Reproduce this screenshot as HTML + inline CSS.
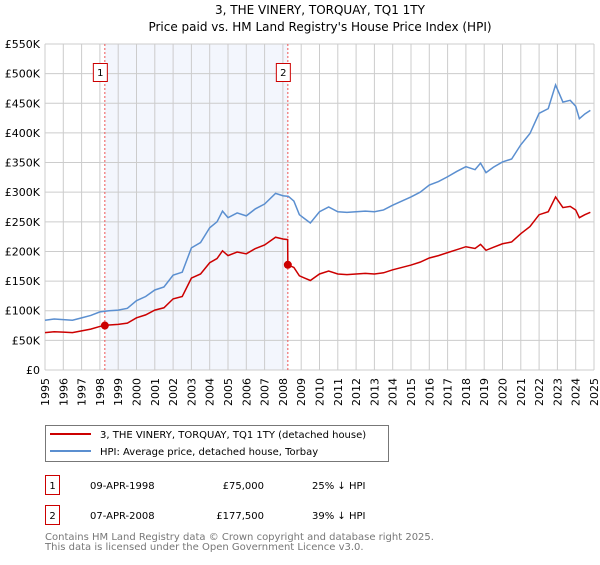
<!DOCTYPE html>
<html><head><meta charset="utf-8">
<style>
body{margin:0;background:#fff;font-family:"Liberation Sans","DejaVu Sans",sans-serif;}
svg text{font-family:"DejaVu Sans","Liberation Sans",sans-serif;}
</style></head>
<body>
<svg id="chart" width="600" height="560" xmlns="http://www.w3.org/2000/svg">
<text x="320" y="14" text-anchor="middle" font-size="12" fill="#000">3, THE VINERY, TORQUAY, TQ1 1TY</text>
<text x="320" y="31" text-anchor="middle" font-size="12" fill="#000">Price paid vs. HM Land Registry's House Price Index (HPI)</text>
<g id="grid"></g>
<g id="series"></g>
<g id="legend">
<rect x="45.5" y="425.5" width="343" height="36" fill="#fff" stroke="#777"/>
<line x1="50" y1="434" x2="91" y2="434" stroke="#cc0000" stroke-width="2"/>
<text x="100" y="438" font-size="10">3, THE VINERY, TORQUAY, TQ1 1TY (detached house)</text>
<line x1="50" y1="451" x2="91" y2="451" stroke="#5b8fd0" stroke-width="2"/>
<text x="100" y="455" font-size="10">HPI: Average price, detached house, Torbay</text>
</g>
<g font-size="10">
<rect x="45.5" y="475.5" width="14" height="19" fill="#fff" stroke="#cc0000"/>
<text x="52.5" y="489" text-anchor="middle">1</text>
<text x="90" y="489">09-APR-1998</text>
<text x="264" y="489" text-anchor="end">£75,000</text>
<text x="312" y="489">25% ↓ HPI</text>
</g>
<g font-size="10">
<rect x="45.5" y="505.5" width="14" height="19" fill="#fff" stroke="#cc0000"/>
<text x="52.5" y="519" text-anchor="middle">2</text>
<text x="90" y="519">07-APR-2008</text>
<text x="264" y="519" text-anchor="end">£177,500</text>
<text x="312" y="519">39% ↓ HPI</text>
</g>
<text x="45" y="540" font-size="10" fill="#777">Contains HM Land Registry data © Crown copyright and database right 2025.</text>
<text x="45" y="550" font-size="10" fill="#777">This data is licensed under the Open Government Licence v3.0.</text>
</svg>
<script>
const yearTicks=[1995,1996,1997,1998,1999,2000,2001,2002,2003,2004,2005,2006,2007,2008,2009,2010,2011,2012,2013,2014,2015,2016,2017,2018,2019,2020,2021,2022,2023,2024,2025];
const yTicks=[0,50000,100000,150000,200000,250000,300000,350000,400000,450000,500000,550000];
const yTickLabels=["£0","£50K","£100K","£150K","£200K","£250K","£300K","£350K","£400K","£450K","£500K","£550K"];
const hpiYears=[1995,1995.5,1996,1996.5,1997,1997.5,1998,1998.5,1999,1999.5,2000,2000.5,2001,2001.5,2002,2002.5,2003,2003.5,2004,2004.4,2004.7,2005,2005.5,2006,2006.5,2007,2007.6,2008,2008.3,2008.6,2008.9,2009.2,2009.5,2010,2010.5,2011,2011.5,2012,2012.5,2013,2013.5,2014,2014.5,2015,2015.5,2016,2016.5,2017,2017.5,2018,2018.5,2018.8,2019.1,2019.5,2020,2020.5,2021,2021.5,2022,2022.5,2022.9,2023.3,2023.7,2024,2024.2,2024.5,2024.8];
const hpiValues=[84000,86000,85000,84000,88000,92000,98000,100000,101000,104000,117000,124000,135000,140000,160000,165000,206000,215000,240000,250000,268000,257000,265000,260000,272000,280000,298000,294000,293000,285000,262000,255000,248000,267000,275000,267000,266000,267000,268000,267000,270000,278000,285000,292000,300000,312000,318000,326000,335000,343000,338000,349000,333000,342000,351000,356000,380000,399000,433000,441000,481000,452000,455000,445000,424000,432000,438000];
const priceYears=[1995,1995.5,1996,1996.5,1997,1997.5,1998,1998.27,1998.5,1999,1999.5,2000,2000.5,2001,2001.5,2002,2002.5,2003,2003.5,2004,2004.4,2004.7,2005,2005.5,2006,2006.5,2007,2007.6,2008,2008.26,2008.27,2008.6,2008.9,2009.2,2009.5,2010,2010.5,2011,2011.5,2012,2012.5,2013,2013.5,2014,2014.5,2015,2015.5,2016,2016.5,2017,2017.5,2018,2018.5,2018.8,2019.1,2019.5,2020,2020.5,2021,2021.5,2022,2022.5,2022.9,2023.3,2023.7,2024,2024.2,2024.5,2024.8];
const priceValues=[63000,64500,64000,63000,66000,69000,73500,75000,76000,77000,79000,88000,93000,101000,105000,120000,124000,155000,162000,181000,188000,201000,193000,199000,196000,205000,211000,224000,221000,220000,177500,173000,159000,155000,151000,162000,167000,162000,161000,162000,163000,162000,164000,169000,173000,177000,182000,189000,193000,198000,203000,208000,205000,212000,202000,207000,213000,216000,230000,242000,262000,267000,292000,274000,276000,270000,257000,262000,266000];
const sales=[{label:"1",year:1998.27,value:75000},{label:"2",year:2008.27,value:177500}];

const X0=45,X1=594,Y0=370,Y1=44;
const x=t=>X0+(t-1995)/(2025-1995)*(X1-X0);
const y=v=>Y0-v/550000*(Y0-Y1);
const NS="http://www.w3.org/2000/svg";
function mk(tag,attrs,parent){const e=document.createElementNS(NS,tag);for(const k in attrs)e.setAttribute(k,attrs[k]);parent.appendChild(e);return e;}
const grid=document.getElementById('grid'),ser=document.getElementById('series');
// shaded region
const sh=mk('rect',{x:x(sales[0].year),y:Y1,width:x(sales[1].year)-x(sales[0].year),height:Y0-Y1,fill:'#eef2fc',opacity:0.7},grid);


yearTicks.forEach(t=>{
  const l=mk('line',{x1:x(t),x2:x(t),y1:Y1,y2:Y0,stroke:'#cccccc','stroke-width':1},grid);
  
  
  const tx=mk('text',{x:0,y:0,'font-size':11,'text-anchor':'end',transform:`translate(${x(t)+4},${Y0+8}) rotate(-90)`},grid);
  tx.textContent=t;
  
  
});
yTicks.forEach((v,i)=>{
  const l=mk('line',{x1:X0,x2:X1,y1:y(v),y2:y(v),stroke:'#cccccc','stroke-width':1},grid);
  
  
  const tx=mk('text',{x:40,y:y(v)+4,'font-size':11,'text-anchor':'end'},grid);
  tx.textContent=yTickLabels[i];
  
  
});
sales.forEach(s=>{
  const l=mk('line',{x1:x(s.year),x2:x(s.year),y1:Y1,y2:Y0,stroke:'#ee5555','stroke-width':1,'stroke-dasharray':'2,2'},grid);
  
  
  const b=mk('rect',{x:x(s.year)-11.5,y:63.5,width:14,height:18,fill:'#fff',stroke:'#cc0000'},grid);
  
  
  const t=mk('text',{x:x(s.year)-4.5,y:76,'font-size':10,'text-anchor':'middle'},grid);
  t.textContent=s.label;
  
  
});
const hp=mk('polyline',{points:hpiYears.map((t,i)=>x(t)+','+y(hpiValues[i])).join(' '),fill:'none',stroke:'#5b8fd0','stroke-width':1.5},ser);


const pp=mk('polyline',{points:priceYears.map((t,i)=>x(t)+','+y(priceValues[i])).join(' '),fill:'none',stroke:'#cc0000','stroke-width':1.5},ser);


sales.forEach(s=>{
  const c=mk('circle',{cx:x(s.year),cy:y(s.value),r:4,fill:'#cc0000'},ser);
  
  
});
</script>
</body></html>
